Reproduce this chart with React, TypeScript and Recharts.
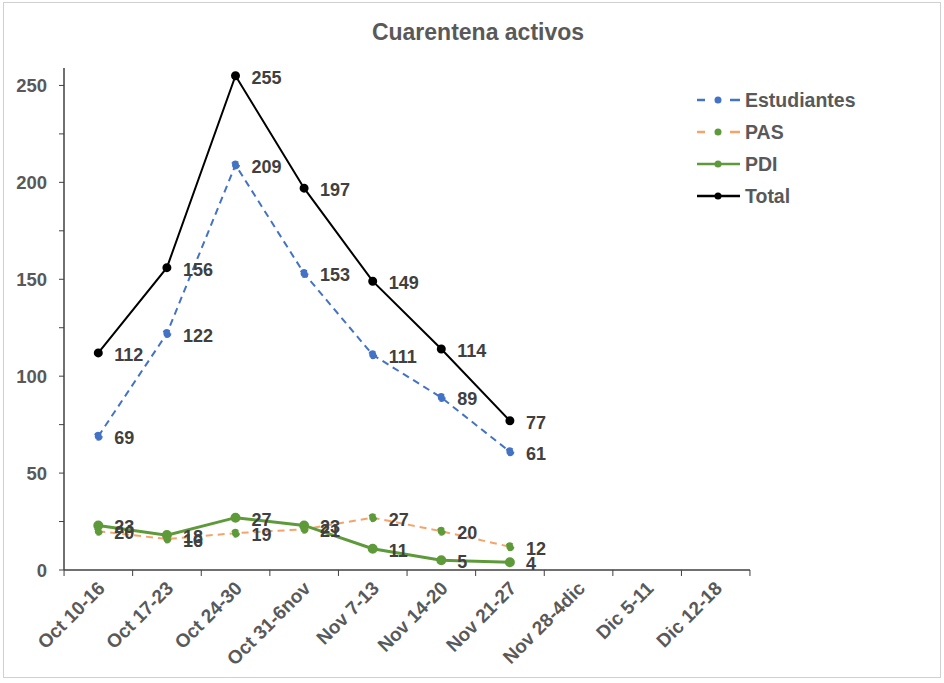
import React from 'react';
import { LineChart, Line, XAxis, YAxis, LabelList } from 'recharts';

const categories = ['Oct 10-16', 'Oct 17-23', 'Oct 24-30', 'Oct 31-6nov', 'Nov 7-13', 'Nov 14-20', 'Nov 21-27', 'Nov 28-4dic', 'Dic 5-11', 'Dic 12-18'];
const estudiantes = [69, 122, 209, 153, 111, 89, 61, null, null, null];
const pas = [20, 16, 19, 21, 27, 20, 12, null, null, null];
const pdi = [23, 18, 27, 23, 11, 5, 4, null, null, null];
const total = [112, 156, 255, 197, 149, 114, 77, null, null, null];
const yTicks = [0, 25, 50, 75, 100, 125, 150, 175, 200, 225, 250];

const data = categories.map((c, i) => ({
  name: c,
  Estudiantes: estudiantes[i],
  PAS: pas[i],
  PDI: pdi[i],
  Total: total[i],
}));

const FONT = '"Liberation Sans", Arial, sans-serif';
const TXT = '#595959';

const XTick = (props: any) => {
  const { x, y, payload, index, visibleTicksCount } = props;
  const half = 685 / categories.length / 2;
  const ax = x - 2;
  const ay = y + 2;
  return (
    <g>
      <line x1={x - half} x2={x - half} y1={y - 8} y2={y - 2} stroke="#404040" />
      {index === (visibleTicksCount ?? categories.length) - 1 && (
        <line x1={x + half} x2={x + half} y1={y - 8} y2={y - 2} stroke="#404040" />
      )}
      <text
        x={ax}
        y={ay}
        textAnchor="end"
        transform={`rotate(-45, ${ax}, ${ay})`}
        fontFamily={FONT}
        fontWeight="bold"
        fontSize={19}
        fill={TXT}
        dominantBaseline="hanging"
      >
        {payload.value}
      </text>
    </g>
  );
};

const YTick = (props: any) => {
  const { x, y, payload } = props;
  const show = payload.value % 50 === 0;
  return (
    <g>
      {show && (
        <text x={x - 10} y={y + 7} textAnchor="end" fontFamily={FONT} fontWeight="bold" fontSize={18.5} fill={TXT}>
          {payload.value}
        </text>
      )}
    </g>
  );
};

const makeLabel = () => (props: any) => {
  const { x, y, value } = props;
  if (value === null || value === undefined) return null;
  return (
    <text x={x + 16} y={y + 8} fontFamily={FONT} fontWeight="bold" fontSize={18} fill="#404040">
      {value}
    </text>
  );
};

const legendItems = [
  { name: 'Estudiantes', line: '#4472C4', dot: '#4472C4', dash: true },
  { name: 'PAS', line: '#F4A46A', dot: '#5E9A3A', dash: true },
  { name: 'PDI', line: '#5E9A3A', dot: '#5E9A3A', dash: false },
  { name: 'Total', line: '#000000', dot: '#000000', dash: false },
];

const LegendBox = () => (
  <svg width={190} height={130}>
    {legendItems.map((it, i) => {
      const cy = 12 + i * 32;
      return (
        <g key={it.name}>
          {it.dash ? (
            <>
              <line x1={2} x2={10} y1={cy} y2={cy} stroke={it.line} strokeWidth={2.5} />
              <line x1={35} x2={45} y1={cy} y2={cy} stroke={it.line} strokeWidth={2.5} />
            </>
          ) : (
            <line x1={2} x2={45} y1={cy} y2={cy} stroke={it.line} strokeWidth={2.5} />
          )}
          <circle cx={23} cy={cy} r={3.5} fill={it.dot} />
          <text x={50} y={cy + 7} fontFamily={FONT} fontWeight="bold" fontSize={19.5} fill={TXT}>
            {it.name}
          </text>
        </g>
      );
    })}
  </svg>
);

export default function App() {
  return (
    <div style={{ position: 'absolute', left: 0, top: 0, width: 944, height: 683, background: '#fff' }}>
      <div style={{ position: 'absolute', left: 3, top: 2, width: 938, height: 676, border: '1px solid #d0d0d0', boxSizing: 'border-box' }} />
      <div style={{ position: 'absolute', left: 0, top: 19, width: 956, textAlign: 'center', fontFamily: FONT, fontWeight: 'bold', fontSize: 23, color: TXT }}>
        Cuarentena activos
      </div>
      <div style={{ position: 'absolute', left: 0, top: 0 }}>
        <LineChart width={944} height={683} data={data} margin={{ top: 68, right: 194, bottom: 13, left: 0 }}>
          <XAxis
            dataKey="name"
            scale="band"
            interval={0}
            tick={<XTick />}
            tickLine={false}
            axisLine={{ stroke: '#404040', strokeWidth: 1.5 }}
            height={100}
          />
          <YAxis
            domain={[0, 259]}
            ticks={yTicks}
            interval={0}
            tick={<YTick />}
            tickSize={5}
            tickLine={{ stroke: '#404040' }}
            axisLine={{ stroke: '#404040', strokeWidth: 1.5 }}
            width={64}
            allowDataOverflow
          />
          <Line dataKey="Estudiantes" stroke="#4472C4" strokeWidth={2} strokeDasharray="7 5" dot={{ r: 3.5, fill: '#4472C4', stroke: '#4472C4' }} isAnimationActive={false}>
            <LabelList dataKey="Estudiantes" content={makeLabel()} />
          </Line>
          <Line dataKey="PAS" stroke="#F4A46A" strokeWidth={2} strokeDasharray="7 5" dot={{ r: 3.5, fill: '#5E9A3A', stroke: '#5E9A3A' }} isAnimationActive={false}>
            <LabelList dataKey="PAS" content={makeLabel()} />
          </Line>
          <Line dataKey="PDI" stroke="#5E9A3A" strokeWidth={3} dot={{ r: 3.5, fill: '#5E9A3A', stroke: '#5E9A3A' }} isAnimationActive={false}>
            <LabelList dataKey="PDI" content={makeLabel()} />
          </Line>
          <Line dataKey="Total" stroke="#000000" strokeWidth={2} dot={{ r: 3.5, fill: '#000', stroke: '#000' }} isAnimationActive={false}>
            <LabelList dataKey="Total" content={makeLabel()} />
          </Line>
        </LineChart>
      </div>
      <div style={{ position: 'absolute', left: 695, top: 88 }}>
        <LegendBox />
      </div>
    </div>
  );
}
